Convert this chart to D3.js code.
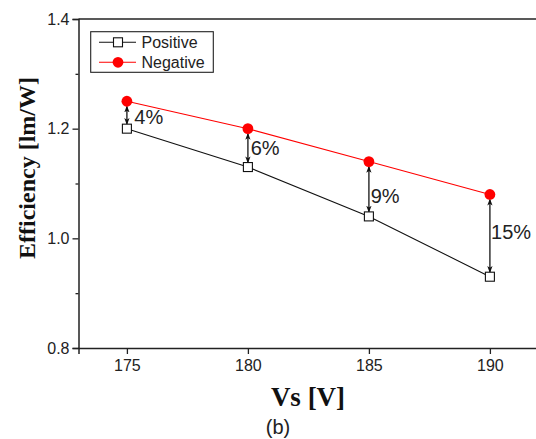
<!DOCTYPE html>
<html><head><meta charset="utf-8">
<script src="https://cdn.jsdelivr.net/npm/d3@7"></script>
<style>
html,body{margin:0;padding:0;background:#fff;}
svg{display:block;}
</style></head>
<body>
<script>
const voltages = [175, 180, 185, 190];
const positive = [1.20, 1.13, 1.04, 0.93];
const negative = [1.25, 1.20, 1.14, 1.08];
const gapLabels = ["4%", "6%", "9%", "15%"];
const xTicks = [175, 180, 185, 190];
const yTicks = [0.8, 1.0, 1.2, 1.4];
const yMinorTicks = [0.9, 1.1, 1.3];
const seriesNames = ["Positive", "Negative"];

const W = 536, H = 439;
const svg = d3.select("body").append("svg").attr("width", W).attr("height", H);

const x = d3.scaleLinear().domain([173, 192]).range([78.5, 538.3]);
const y = d3.scaleLinear().domain([0.8, 1.4]).range([348, 19]);

const sans = "'Liberation Sans', Arial, sans-serif";
const serif = "'Liberation Serif', 'Times New Roman', serif";
const axisColor = "#222";

// defs for arrow heads
const defs = svg.append("defs");
["start","end"].forEach(k => {
  defs.append("marker").attr("id", "arr-" + k)
    .attr("viewBox", "0 -4 8 8").attr("refX", 7).attr("refY", 0)
    .attr("markerWidth", 7).attr("markerHeight", 7)
    .attr("markerUnits", "userSpaceOnUse")
    .attr("orient", k === "start" ? "auto-start-reverse" : "auto")
    .append("path").attr("d", "M0,-3L8,0L0,3L2,0Z").attr("fill", "#111");
});

// frame: top line
svg.append("line").attr("x1", x(173)).attr("x2", x(192)).attr("y1", y(1.4)).attr("y2", y(1.4))
  .attr("stroke", axisColor).attr("stroke-width", 1.5);

// y axis
const yAxis = svg.append("g").attr("transform", `translate(${x(173)},0)`)
  .call(d3.axisLeft(y).tickValues(yTicks).tickFormat(d3.format(".1f")).tickSize(6).tickPadding(3));
yAxis.select(".domain").attr("stroke", axisColor).attr("stroke-width", 1.5);
yAxis.selectAll(".tick line").attr("stroke", axisColor).attr("stroke-width", 1.3);
yAxis.selectAll(".tick text").attr("font-family", sans).attr("font-size", 16).attr("fill", "#222");
svg.append("g").attr("transform", `translate(${x(173)},0)`)
  .call(d3.axisLeft(y).tickValues(yMinorTicks).tickFormat("").tickSize(3))
  .call(g => g.select(".domain").remove())
  .selectAll(".tick line").attr("stroke", axisColor).attr("stroke-width", 1.3);

// x axis
const xAxis = svg.append("g").attr("transform", `translate(0,${y(0.8)})`)
  .call(d3.axisBottom(x).tickValues(xTicks).tickFormat(d3.format("d")).tickSize(6).tickPadding(6));
xAxis.select(".domain").attr("stroke", axisColor).attr("stroke-width", 1.5);
xAxis.selectAll(".tick line").attr("stroke", axisColor).attr("stroke-width", 1.3);
xAxis.selectAll(".tick text").attr("font-family", sans).attr("font-size", 16).attr("fill", "#222");

// axis titles
svg.append("text").attr("x", 308).attr("y", 406).attr("text-anchor", "middle")
  .attr("font-family", serif).attr("font-weight", "bold").attr("font-size", 27).attr("fill", "#111")
  .text("Vs [V]");
svg.append("text").attr("transform", "translate(35,168) rotate(-90)").attr("text-anchor", "middle")
  .attr("font-family", serif).attr("font-weight", "bold").attr("font-size", 24).attr("fill", "#111")
  .text("Efficiency [lm/W]");
svg.append("text").attr("x", 278).attr("y", 434).attr("text-anchor", "middle")
  .attr("font-family", sans).attr("font-size", 20).attr("fill", "#222").text("(b)");

// lines
const line = d3.line().x((d, i) => x(voltages[i])).y(d => y(d));
svg.append("path").datum(positive).attr("d", line).attr("fill", "none").attr("stroke", "#111").attr("stroke-width", 1.1);
svg.append("path").datum(negative).attr("d", line).attr("fill", "none").attr("stroke", "#ff0000").attr("stroke-width", 1.1);

// gap arrows
const labelDy = [9, 7, 14, 3];
const labelDx = [7.4, 2.8, 1.8, 1.2];
voltages.forEach((v, i) => {
  svg.append("line")
    .attr("x1", x(v)).attr("x2", x(v))
    .attr("y1", y(negative[i]) + 5).attr("y2", y(positive[i]) - 4.5)
    .attr("stroke", "#333").attr("stroke-width", 1.5)
    .attr("marker-start", "url(#arr-start)").attr("marker-end", "url(#arr-end)");
  const mid = (y(negative[i]) + y(positive[i])) / 2;
  svg.append("text").attr("x", x(v) + labelDx[i]).attr("y", mid + labelDy[i])
    .attr("font-family", sans).attr("font-size", 20).attr("fill", "#222").text(gapLabels[i]);
});

// markers
svg.selectAll(".sq").data(positive).enter().append("rect")
  .attr("x", (d, i) => x(voltages[i]) - 4.5).attr("y", d => y(d) - 4.5)
  .attr("width", 9).attr("height", 9).attr("fill", "#fff").attr("stroke", "#111").attr("stroke-width", 1.1);
svg.selectAll(".ci").data(negative).enter().append("circle")
  .attr("cx", (d, i) => x(voltages[i])).attr("cy", d => y(d)).attr("r", 5.4).attr("fill", "#ff0000");

// legend
const lg = svg.append("g");
lg.append("rect").attr("x", 90.7).attr("y", 31.7).attr("width", 122.6).attr("height", 40.6)
  .attr("fill", "#fff").attr("stroke", "#222").attr("stroke-width", 1.1);
const rows = [42.3, 62.3];
rows.forEach((ry, i) => {
  lg.append("line").attr("x1", 99).attr("x2", 136).attr("y1", ry).attr("y2", ry)
    .attr("stroke", i === 0 ? "#111" : "#ff0000").attr("stroke-width", 1.1);
  if (i === 0) {
    lg.append("rect").attr("x", 113.5).attr("y", ry - 4.5).attr("width", 9).attr("height", 9)
      .attr("fill", "#fff").attr("stroke", "#111").attr("stroke-width", 1.1);
  } else {
    lg.append("circle").attr("cx", 118).attr("cy", ry).attr("r", 5.4).attr("fill", "#ff0000");
  }
  lg.append("text").attr("x", 141.5).attr("y", ry + 5.8).attr("font-family", sans).attr("font-size", 16)
    .attr("fill", "#222").text(seriesNames[i]);
});
</script>
</body></html>
